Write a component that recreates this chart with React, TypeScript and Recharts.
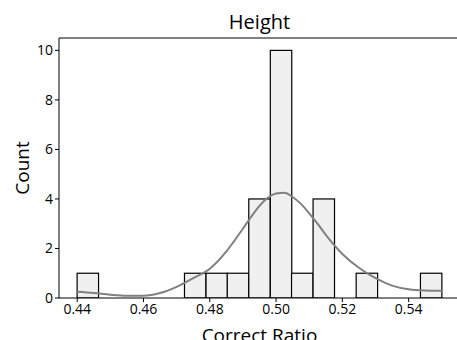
import {
  ComposedChart,
  Bar,
  Line,
  XAxis,
  YAxis,
  ReferenceLine,
} from "recharts";

const binCenters = [
  0.4432, 0.4497, 0.4561, 0.4626, 0.4691, 0.4756, 0.4821, 0.4885, 0.495,
  0.5015, 0.5079, 0.5144, 0.5209, 0.5274, 0.5338, 0.5403, 0.5468,
];
const binCounts = [1, 0, 0, 0, 0, 1, 1, 1, 4, 10, 1, 4, 0, 1, 0, 0, 1];
const binWidth = 0.00647;

const kdeX = [
  0.44, 0.445, 0.45, 0.455, 0.46, 0.465, 0.47, 0.475, 0.48, 0.485, 0.4875,
  0.49, 0.4925, 0.495, 0.4975, 0.5, 0.5025, 0.505, 0.5075, 0.51, 0.5125, 0.515,
  0.52, 0.525, 0.53, 0.535, 0.54, 0.545, 0.55,
];
const kdeY = [
  0.25, 0.2, 0.13, 0.09, 0.09, 0.2, 0.45, 0.8, 1.18, 1.88, 2.33, 2.8, 3.28,
  3.72, 4.05, 4.22, 4.25, 4.08, 3.8, 3.42, 3.0, 2.55, 1.78, 1.22, 0.8, 0.5,
  0.35, 0.3, 0.29,
];

const xTicks = [0.44, 0.46, 0.48, 0.5, 0.52, 0.54];
const yTicks = [0, 2, 4, 6, 8, 10];
const xDomain: [number, number] = [0.4345, 0.5555];
const yDomain: [number, number] = [0, 10.5];

const bins = binCenters.map((x, i) => ({ x, count: binCounts[i] }));
const kde = kdeX.map((x, i) => ({ x, density: kdeY[i] }));

const FONT = "'Open Sans', sans-serif";
const W = 462;
const H = 340;
const M = { top: 38, right: 2, bottom: 12, left: 0 };
const Y_W = 59;
const plotW = W - M.left - M.right - Y_W;
const barPx = (binWidth / (xDomain[1] - xDomain[0])) * plotW;

// histogram bar: keep the library's x centre and height, use the bin width
const HistBar = (props: any) => {
  const { x, y, width, height } = props;
  if (!height || height <= 0) return null;
  const cx = x + width / 2;
  return (
    <rect
      x={cx - barPx / 2}
      y={y}
      width={barPx}
      height={height}
      fill="#f0f0f0"
      stroke="#000"
      strokeWidth={1.2}
    />
  );
};

export default function App() {
  return (
    <div
      style={{
        position: "absolute",
        left: 0,
        top: 0,
        width: 457,
        height: 340,
        overflow: "hidden",
        background: "#fff",
        fontFamily: FONT,
      }}
    >
      <div
        style={{
          position: "absolute",
          left: 0,
          width: 519,
          top: 8,
          textAlign: "center",
          fontSize: 20,
          color: "#000",
        }}
      >
        Height
      </div>
      <ComposedChart width={W} height={H} data={bins} margin={M}>
        <XAxis
          dataKey="x"
          type="number"
          domain={xDomain}
          ticks={xTicks}
          tickFormatter={(v) => v.toFixed(2)}
          allowDataOverflow
          height={30}
          stroke="#000"
          tick={{ fill: "#000", fontSize: 14, fontFamily: FONT }}
          tickSize={4}
          label={{
            value: "Correct Ratio",
            position: "insideBottom",
            offset: -14,
            fill: "#000",
            fontSize: 19,
            fontFamily: FONT,
          }}
        />
        <YAxis
          type="number"
          domain={yDomain}
          ticks={yTicks}
          width={Y_W}
          allowDataOverflow
          stroke="#000"
          tick={{ fill: "#000", fontSize: 14, fontFamily: FONT }}
          tickSize={4}
          label={{
            value: "Count",
            angle: -90,
            position: "insideLeft",
            offset: 22,
            fill: "#000",
            fontSize: 19,
            fontFamily: FONT,
            style: { textAnchor: "middle" },
          }}
        />
        <ReferenceLine y={10.5} stroke="#000" strokeWidth={1} />
        <Bar dataKey="count" shape={HistBar} isAnimationActive={false} />
        <Line
          data={kde}
          dataKey="density"
          type="monotone"
          stroke="#808080"
          strokeWidth={2}
          dot={false}
          isAnimationActive={false}
        />
      </ComposedChart>
    </div>
  );
}
